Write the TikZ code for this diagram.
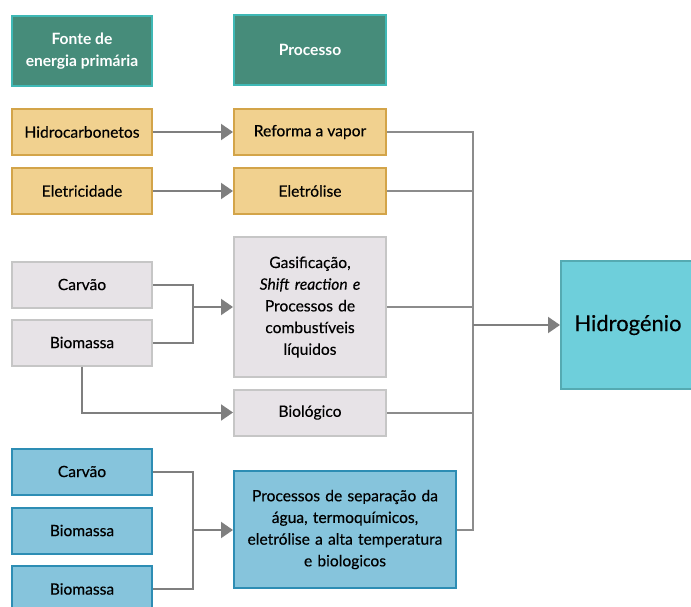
\documentclass[tikz,border=0pt]{standalone}
\usepackage{fontspec}
\setmainfont{Lato}
\newfontfamily\txtfont{Lato}[FakeBold=0.3,ItalicFeatures={FakeBold=0.3}]
\usetikzlibrary{arrows.meta}
\definecolor{hdrfill}{HTML}{468C7A}
\definecolor{hdrdraw}{HTML}{3FB8B5}
\definecolor{yfill}{HTML}{F1D18F}
\definecolor{ydraw}{HTML}{D3A449}
\definecolor{gfill}{HTML}{E7E3E7}
\definecolor{gdraw}{HTML}{C6C6C6}
\definecolor{bfill}{HTML}{86C4DC}
\definecolor{bdraw}{HTML}{2D8DB4}
\definecolor{hfill}{HTML}{6ECFDB}
\definecolor{hdraw}{HTML}{55AAB2}
\definecolor{conn}{HTML}{7F7F7F}
\begin{document}
\begin{tikzpicture}[x=1pt,y=-1pt,
  box/.style={draw, line width=2pt, inner sep=2pt, align=center,
    font=\txtfont\fontsize{15.6}{21.7}\selectfont, text=black},
  hdr/.style={box, fill=hdrfill, draw=hdrdraw, text=white, minimum width=140, minimum height=70,
    font=\bfseries\fontsize{15.6}{21.7}\selectfont},
  ybox/.style={box, fill=yfill, draw=ydraw, minimum height=46},
  gbox/.style={box, fill=gfill, draw=gdraw, minimum height=46},
  bbox/.style={box, fill=bfill, draw=bdraw, minimum height=46},
  src/.style={minimum width=140},
  proc/.style={minimum width=152},
  link/.style={draw=conn, line width=2pt},
  rlink/.style={draw=conn!90, line width=2pt},
  arr/.style={link, -{Triangle[length=12pt,width=16pt]}}
]
\useasboundingbox (0,0) rectangle (691,607);

% headers
\node[hdr] (h1) at (82,51) {Fonte de\\energia primária};
\node[hdr, minimum width=152] (h2) at (310,50) {Processo};

% yellow row
\node[ybox, src] (hc) at (82,132) {Hidrocarbonetos};
\node[ybox, proc] (rv) at (310,132) {Reforma a vapor};
\node[ybox, src] (el) at (82,191) {Eletricidade};
\node[ybox, proc] (ep) at (310,191) {Eletrólise};

% gray group
\node[gbox, src] (ca) at (82,284.5) {Carvão};
\node[gbox, src] (bi) at (82,342.5) {Biomassa};
\node[gbox, proc, minimum height=140, text width=144] (ga) at (310,307)
  {Gasificação,\\\textit{Shift reaction e}\\Processos de\\combustíveis\\líquidos};
\node[gbox, proc] (bl) at (310,412.5) {Biológico};

% blue group
\node[bbox, src] (bc) at (82,471.5) {Carvão};
\node[bbox, src] (bb1) at (82,530.5) {Biomassa};
\node[bbox, src] (bb2) at (82,589) {Biomassa};
\node[bbox, minimum width=222, minimum height=117, text width=215] (bp) at (345,529.5)
  {Processos de separação da\\água, termoquímicos,\\eletrólise a alta temperatura\\e biologicos};

% hydrogen
\node[box, fill=hfill, draw=hdraw, minimum width=134, minimum height=128,
  font=\txtfont\fontsize{22}{25}\selectfont] (h2o) at (628,325) {Hidrogénio};

% connectors left
\draw[arr] (hc.east) -- (rv.west);
\draw[arr] (el.east) -- (ep.west);
\coordinate (gj) at (193,307);
\draw[link] (ca.east) -| (gj);
\draw[link] (bi.east) -| (gj);
\draw[arr] (gj) -- (ga.west);
\draw[arr] (bi.south) |- (bl.west);
\coordinate (bj) at (193,530);
\draw[link] (bc.east) -| (bj);
\draw[link] (bb2.east) -| (bj);
\draw[arr] (bj) -- (bp.west |- bj);

% connectors right
\coordinate (rj) at (473,325);
\draw[rlink] (rv.east) -| (rj);
\draw[rlink] (ep.east) -| (rj);
\draw[rlink] (ga.east) -| (rj);
\draw[rlink] (bl.east) -| (rj);
\draw[rlink] (bp.east) -| (rj);
\draw[arr] (rj) -- (h2o.west);
\end{tikzpicture}
\end{document}
